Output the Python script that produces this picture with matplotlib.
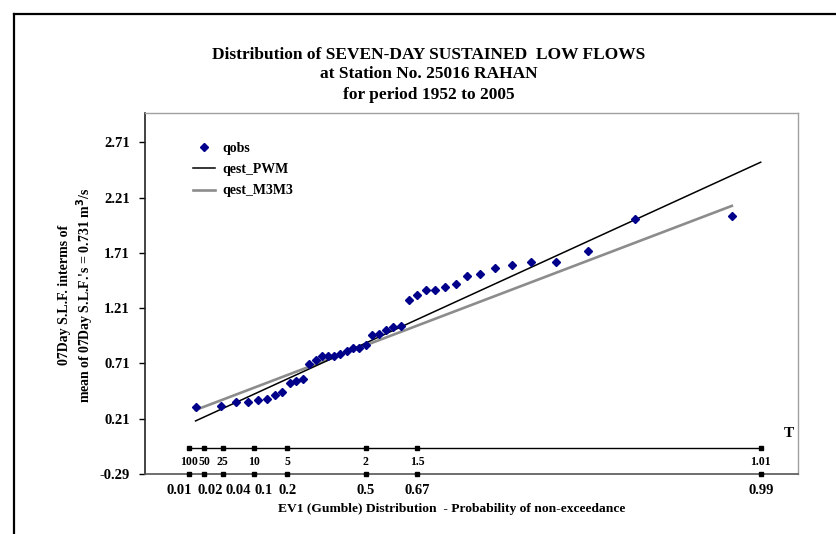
import numpy as np
import matplotlib
matplotlib.use("Agg")
import matplotlib.pyplot as plt
from matplotlib.lines import Line2D

plt.rcParams['font.family'] = ['Liberation Serif', 'DejaVu Serif']
plt.rcParams['font.weight'] = 'bold'

# ---------------- data ----------------
# observed plotting positions (probability of non-exceedance) and values
obs_p = [0.0136, 0.0379, 0.0623, 0.0866, 0.1109, 0.1352, 0.1595, 0.1839, 0.2082, 0.2325,
         0.2568, 0.2811, 0.3054, 0.3298, 0.3541, 0.3784, 0.4027, 0.4270, 0.4514, 0.4757,
         0.5000, 0.5243, 0.5486, 0.5730, 0.5973, 0.6216, 0.6459, 0.6702, 0.6946, 0.7189,
         0.7432, 0.7675, 0.7918, 0.8161, 0.8405, 0.8648, 0.8891, 0.9134, 0.9377, 0.9621,
         0.9864]
obs_q = [0.314, 0.328, 0.359, 0.364, 0.377, 0.391, 0.428, 0.449, 0.531, 0.554,
         0.570, 0.701, 0.737, 0.775, 0.775, 0.775, 0.799, 0.820, 0.848, 0.850,
         0.877, 0.971, 0.980, 1.016, 1.043, 1.047, 1.285, 1.330, 1.375, 1.375,
         1.405, 1.427, 1.502, 1.517, 1.572, 1.601, 1.631, 1.631, 1.728, 2.015,
         2.039]

pwm_p = [0.0136, 0.99]
pwm_q = [0.19, 2.53]

m3m3_p = [0.0136, 0.9864]
m3m3_q = [0.289, 2.135]

prob_ticks = [0.01, 0.02, 0.04, 0.1, 0.2, 0.5, 0.67, 0.99]
prob_labels = ['0.01', '0.02', '0.04', '0.1', '0.2', '0.5', '0.67', '0.99']
T_labels = ['100', '50', '25', '10', '5', '2', '1.5', '1.01']

y_ticks = [-0.29, 0.21, 0.71, 1.21, 1.71, 2.21, 2.71]
y_tick_labels = ['-0.29', '0.21', '0.71', '1.21', '1.71', '2.21', '2.71']

title_lines = ['Distribution of SEVEN-DAY SUSTAINED  LOW FLOWS',
               'at Station No. 25016 RAHAN',
               'for period 1952 to 2005']

# ---------------- figure ----------------
W, H = 836, 534
fig = plt.figure(figsize=(W / 100, H / 100), dpi=100)
fig.patch.set_facecolor('white')

# outer black frame (left and top visible)
fig.add_artist(Line2D([14 / W, 14 / W], [0, 1 - 14 / H], transform=fig.transFigure,
                      color='black', lw=1.6))
fig.add_artist(Line2D([14 / W, 1], [1 - 14 / H, 1 - 14 / H], transform=fig.transFigure,
                      color='black', lw=1.6))

ax = fig.add_axes([145 / W, 1 - 474 / H, (798 - 145) / W, (474 - 113) / H])


def fwd(p):
    p = np.clip(np.asarray(p, dtype=float), 1e-12, 1 - 1e-12)
    return -np.log(-np.log(p))


def inv(v):
    return np.exp(-np.exp(-np.asarray(v, dtype=float)))


ax.set_xscale('function', functions=(fwd, inv))
ax.set_xlim(inv(-2.0), inv(5.0))
ax.set_ylim(-0.29, 2.975)

# series
ax.plot(m3m3_p, m3m3_q, color='#8c8c8c', lw=1.9, label='qest_M3M3', zorder=2)
ax.plot(pwm_p, pwm_q, color='black', lw=1.1, label='qest_PWM', zorder=3)
ax.plot(obs_p, obs_q, linestyle='none', marker='D', ms=4.0, color='#00008b',
        label='qobs', zorder=4)

# legend in original order
h, l = ax.get_legend_handles_labels()
order = [2, 1, 0]
leg = ax.legend([h[i] for i in order], [l[i] for i in order], loc='upper left',
                bbox_to_anchor=(0.054, 0.955), frameon=False, fontsize=10,
                handlelength=1.6, labelspacing=0.6, handletextpad=0.5)

# y axis
ax.set_yticks(y_ticks)
ax.set_yticklabels(y_tick_labels)
ax.tick_params(axis='y', direction='out', length=4, width=1, pad=7, labelsize=10.5)
for t in ax.get_yticklabels():
    t.set_fontweight('bold')

# x axis: probability ticks drawn as square markers on the axis
ax.set_xticks([])
ax.xaxis.set_minor_locator(matplotlib.ticker.NullLocator())
ax.plot(prob_ticks, [-0.29] * len(prob_ticks), linestyle='none', marker='s', ms=3.5,
        color='black', clip_on=False, zorder=5)
label_shift_px = [-10, 6, 16, 10, 0, 0, 0, 0]
for p, lab, dx in zip(prob_ticks, prob_labels, label_shift_px):
    ax.annotate(lab, xy=(p, -0.29), xytext=(dx * 0.72, -7.5), textcoords='offset points',
                ha='center', va='top', fontsize=10.5, fontweight='bold', annotation_clip=False)

# return-period (T) axis
T_level = -0.055
ax.plot(prob_ticks, [T_level] * len(prob_ticks), color='black', lw=1.0, marker='s', ms=3.5,
        zorder=5)
for p, lab in zip(prob_ticks, T_labels):
    ax.annotate(lab, xy=(p, T_level), xytext=(0, -6), textcoords='offset points',
                ha='center', va='top', fontsize=8.5, fontweight='bold')
ax.text(inv(4.9), 0.08, 'T', ha='center', va='center', fontsize=11, fontweight='bold')

# spines
ax.spines['left'].set_color('#222222')
ax.spines['left'].set_linewidth(1.2)
ax.spines['bottom'].set_color('#555555')
ax.spines['bottom'].set_linewidth(1.2)
for s in ('top', 'right'):
    ax.spines[s].set_color('#a0a0a0')
    ax.spines[s].set_linewidth(1.0)

# titles
title_y = [55, 74, 95]
for txt, yy in zip(title_lines, title_y):
    fig.text(429 / W, 1 - yy / H, txt, ha='center', va='center', fontsize=12.5,
             fontweight='bold')

# axis labels
fig.text(77 / W, 1 - 295 / H, "07Day S.L.F. interms of\nmean of 07Day S.L.F.'s = 0.731 m$^\\mathbf{3}$/s",
         rotation=90, ha='center', va='center', fontsize=10, fontweight='bold',
         multialignment='center', linespacing=1.2)
fig.text(452 / W, 1 - 509 / H, 'EV1 (Gumble) Distribution  - Probability of non-exceedance',
         ha='center', va='center', fontsize=9.7, fontweight='bold')

fig.savefig('out.png', dpi=100, facecolor='white')
